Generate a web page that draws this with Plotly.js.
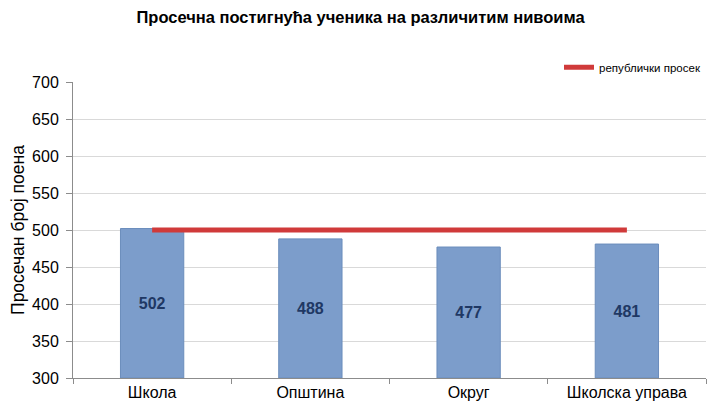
<!DOCTYPE html>
<html><head><meta charset="utf-8">
<script src="https://cdn.plot.ly/plotly-3.0.1.min.js"></script>
<style>html,body{margin:0;padding:0;background:#fff;}#chart{width:707px;height:411px;}</style>
</head><body><div id="chart"></div>
<script>
const categories = ["Школа", "Општина", "Округ", "Школска управа"];
const values = [502, 488, 477, 481];
const republicAvg = [500, 500, 500, 500];
const axisBase = 300;
const yTicks = [300, 350, 400, 450, 500, 550, 600, 650, 700];

const font = "Liberation Sans, Arial, sans-serif";

const bars = {
  type: "bar",
  x: categories,
  base: categories.map(() => axisBase),
  y: values.map(v => v - axisBase),
  width: 0.4,
  text: values.map(String),
  textposition: "inside",
  insidetextanchor: "middle",
  textfont: {family: font, size: 16, color: "#1F3864", weight: "bold"},
  marker: {color: "#7C9DCB", line: {color: "#6B8DBC", width: 1}},
  showlegend: false,
  hoverinfo: "skip"
};

const avgLine = {
  type: "scatter",
  mode: "lines",
  x: categories,
  y: republicAvg,
  name: "републички просек",
  line: {color: "#D03A3A", width: 5},
  hoverinfo: "skip"
};

const layout = {
  width: 707, height: 411,
  margin: {l: 73, r: 1, t: 82, b: 33},
  paper_bgcolor: "#fff", plot_bgcolor: "#fff",
  font: {family: font, color: "#000"},
  title: {text: "Просечна постигнућа ученика на различитим нивоима",
          font: {family: font, size: 16.5, weight: "bold", color: "#000"},
          x: 0.51, xanchor: "center", y: 0.957, yanchor: "middle"},
  xaxis: {
    type: "category",
    showgrid: false,
    showline: true, linecolor: "#8C8C8C", linewidth: 1,
    ticks: "outside", tickson: "boundaries", ticklen: 5, tickcolor: "#8C8C8C",
    tickfont: {family: font, size: 16, color: "#000"},
    fixedrange: true
  },
  yaxis: {
    range: [300, 700],
    tickvals: yTicks,
    showgrid: true, gridcolor: "#D9D9D9", gridwidth: 1,
    showline: true, linecolor: "#8C8C8C", linewidth: 1,
    ticks: "outside", ticklen: 6, tickcolor: "#8C8C8C",
    ticklabelstandoff: 4,
    tickfont: {family: font, size: 16, color: "#000"},
    zeroline: false,
    title: {text: "Просечан број поена", font: {family: font, size: 17.5, color: "#000"}, standoff: 2}
  },
  showlegend: true,
  legend: {orientation: "h", x: 1, xanchor: "right", y: 1.05, yanchor: "middle",
           font: {family: font, size: 11.5, color: "#000"}, bgcolor: "rgba(0,0,0,0)"},
  bargap: 0.6
};

Plotly.newPlot("chart", [bars, avgLine], layout, {displayModeBar: false, staticPlot: true});
</script>
</body></html>
